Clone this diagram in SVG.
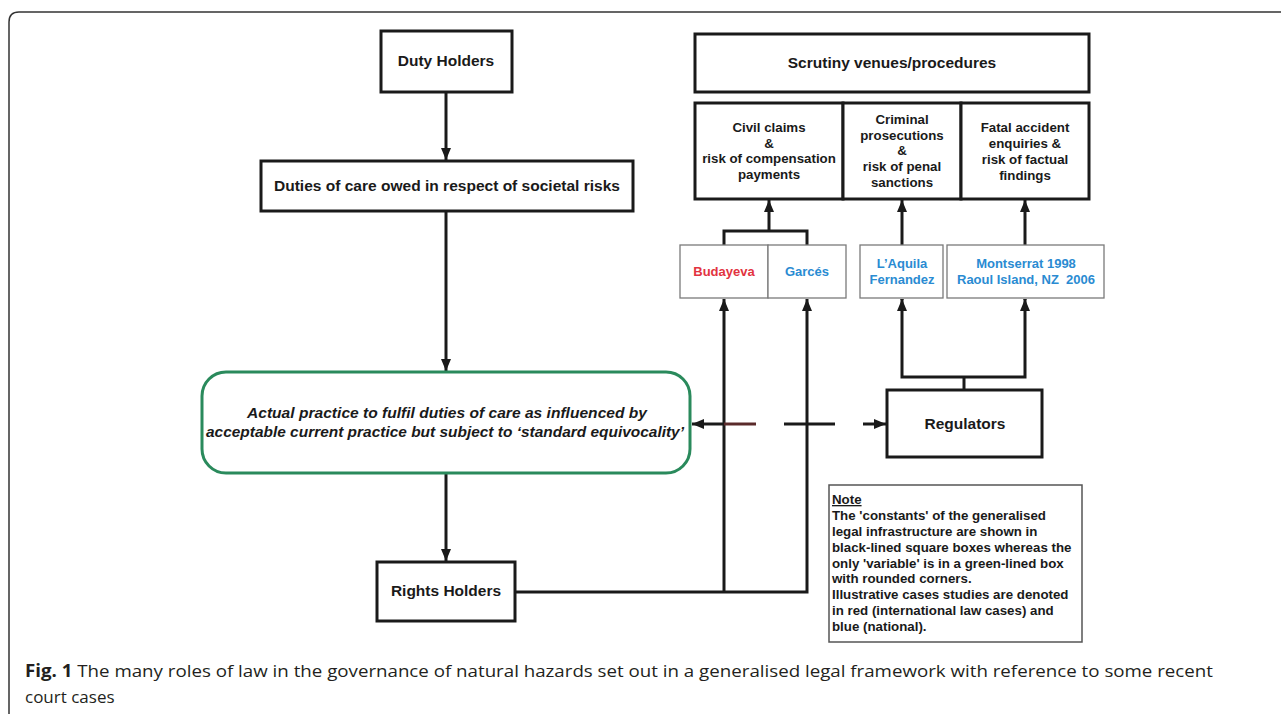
<svg xmlns="http://www.w3.org/2000/svg" width="1281" height="714" viewBox="0 0 1281 714">
<defs>
<marker id="ah" markerUnits="userSpaceOnUse" markerWidth="12" markerHeight="12" refX="12" refY="5" orient="auto">
<path d="M0,0 L12,5 L0,10 z" fill="#1a1a1a"/>
</marker>
<style>
.box{fill:#fff;stroke:#1a1a1a;stroke-width:3}
.cbox{fill:#fff;stroke:#7a7a7a;stroke-width:1.3}
.green{fill:#fff;stroke:#2a8a5c;stroke-width:3}
.note{fill:#fff;stroke:#555;stroke-width:1.5}
.t{font-family:"Liberation Sans",Arial,sans-serif;font-weight:bold;fill:#1a1a1a;text-anchor:middle}
.b15{font-size:15.5px}
.b13{font-size:13.3px}
.it{font-style:italic}
.red{fill:#e23340;font-family:"Liberation Sans",Arial,sans-serif;font-weight:bold;font-size:13px;text-anchor:middle}
.blue{fill:#2a8bd2;font-family:"Liberation Sans",Arial,sans-serif;font-weight:bold;font-size:13px;text-anchor:middle}
.n{font-family:"Liberation Sans",Arial,sans-serif;font-weight:bold;font-size:13.3px;fill:#1a1a1a}
.cap{font-family:"Open Sans","Liberation Sans",sans-serif;font-size:17px;fill:#231f20}
.c{fill:none;stroke:#1a1a1a;stroke-width:3}
</style>
</defs>
<rect width="1281" height="714" fill="#fff"/>
<path d="M9,714 V22 Q9,12 19,12 H1281" fill="none" stroke="#333" stroke-width="1.5"/>

<g id="connectors">
<line class="c" x1="446" y1="92" x2="446" y2="160" marker-end="url(#ah)"/>
<line class="c" x1="446" y1="211" x2="446" y2="371" marker-end="url(#ah)"/>
<line class="c" x1="446" y1="473" x2="446" y2="561" marker-end="url(#ah)"/>
<polyline class="c" points="515,592 807,592 807,299" marker-end="url(#ah)"/>
<line class="c" x1="724" y1="592" x2="724" y2="299" marker-end="url(#ah)"/>
<polyline class="c" points="724,245 724,231 807,231 807,245"/>
<line class="c" x1="769" y1="231" x2="769" y2="200" marker-end="url(#ah)"/>
<line class="c" x1="902" y1="245" x2="902" y2="200" marker-end="url(#ah)"/>
<line class="c" x1="1025" y1="245" x2="1025" y2="200" marker-end="url(#ah)"/>
<polyline class="c" points="902,299 902,377 1025,377 1025,299"/>
<line class="c" x1="964" y1="377" x2="964" y2="390"/>
<line class="c" x1="902" y1="300" x2="902" y2="299" marker-end="url(#ah)"/>
<line class="c" x1="1025" y1="300" x2="1025" y2="299" marker-end="url(#ah)"/>
<line class="c" x1="724" y1="424" x2="692" y2="424" marker-end="url(#ah)"/>
<line x1="724" y1="424" x2="756" y2="424" stroke="#5a2a2a" stroke-width="3"/>
<line class="c" x1="784" y1="424" x2="835" y2="424"/>
<line class="c" x1="863" y1="424" x2="886" y2="424" marker-end="url(#ah)"/>
</g>

<g id="duty-holders">
<rect class="box" x="381" y="31" width="131" height="61"/>
<text class="t b15" x="446" y="66">Duty Holders</text>
</g>
<g id="duties-of-care">
<rect class="box" x="261" y="161" width="372" height="50"/>
<text class="t b15" x="447" y="191" textLength="346" lengthAdjust="spacingAndGlyphs">Duties of care owed in respect of societal risks</text>
</g>
<g id="actual-practice">
<rect class="green" x="202" y="372" width="488" height="101" rx="24" ry="24"/>
<text class="t b15 it" x="447" y="418" textLength="400" lengthAdjust="spacingAndGlyphs">Actual practice to fulfil duties of care as influenced by</text>
<text class="t b15 it" x="445" y="437" textLength="478" lengthAdjust="spacingAndGlyphs">acceptable current practice but subject to ‘standard equivocality’</text>
</g>
<g id="rights-holders">
<rect class="box" x="377" y="562" width="138" height="59"/>
<text class="t b15" x="446" y="596">Rights Holders</text>
</g>
<g id="scrutiny">
<rect class="box" x="695" y="34" width="394" height="58"/>
<text class="t b15" x="892" y="68">Scrutiny venues/procedures</text>
</g>
<g id="civil-claims">
<rect class="box" x="695" y="103" width="148" height="96"/>
<text class="t b13" x="769" y="132">Civil claims</text>
<text class="t b13" x="769" y="148">&amp;</text>
<text class="t b13" x="769" y="163">risk of compensation</text>
<text class="t b13" x="769" y="179">payments</text>
</g>
<g id="criminal-prosecutions">
<rect class="box" x="843" y="103" width="118" height="96"/>
<text class="t b13" x="902" y="124">Criminal</text>
<text class="t b13" x="902" y="140">prosecutions</text>
<text class="t b13" x="902" y="155">&amp;</text>
<text class="t b13" x="902" y="171">risk of penal</text>
<text class="t b13" x="902" y="187">sanctions</text>
</g>
<g id="fatal-accident">
<rect class="box" x="961" y="103" width="128" height="96"/>
<text class="t b13" x="1025" y="132">Fatal accident</text>
<text class="t b13" x="1025" y="148">enquiries &amp;</text>
<text class="t b13" x="1025" y="164">risk of factual</text>
<text class="t b13" x="1025" y="180">findings</text>
</g>
<g id="budayeva">
<rect class="cbox" x="680" y="245" width="88" height="53"/>
<text class="red" x="724" y="276">Budayeva</text>
</g>
<g id="garces">
<rect class="cbox" x="768" y="245" width="78" height="53"/>
<text class="blue" x="807" y="276">Garcés</text>
</g>
<g id="laquila">
<rect class="cbox" x="860" y="245" width="83" height="53"/>
<text class="blue" x="902" y="268">L’Aquila</text>
<text class="blue" x="902" y="284">Fernandez</text>
</g>
<g id="montserrat">
<rect class="cbox" x="947" y="245" width="157" height="53"/>
<text class="blue" x="1026" y="268">Montserrat 1998</text>
<text class="blue" x="1026" y="284" xml:space="preserve">Raoul Island, NZ  2006</text>
</g>
<g id="regulators">
<rect class="box" x="887" y="390" width="155" height="67"/>
<text class="t b15" x="965" y="429">Regulators</text>
</g>
<g id="note">
<rect class="note" x="829" y="485" width="253" height="157"/>
<text class="n" x="832" y="504" text-decoration="underline">Note</text>
<text class="n" x="832" y="520">The 'constants' of the generalised</text>
<text class="n" x="832" y="536">legal infrastructure are shown in</text>
<text class="n" x="832" y="552">black-lined square boxes whereas the</text>
<text class="n" x="832" y="568">only 'variable' is in a green-lined box</text>
<text class="n" x="832" y="583">with rounded corners.</text>
<text class="n" x="832" y="599">Illustrative cases studies are denoted</text>
<text class="n" x="832" y="615">in red (international law cases) and</text>
<text class="n" x="832" y="631">blue (national).</text>
</g>
<g id="caption">
<text class="cap" x="25" y="677" textLength="1188" lengthAdjust="spacingAndGlyphs"><tspan font-weight="bold">Fig. 1</tspan> The many roles of law in the governance of natural hazards set out in a generalised legal framework with reference to some recent</text>
<text class="cap" x="25" y="703">court cases</text>
</g>
</svg>
